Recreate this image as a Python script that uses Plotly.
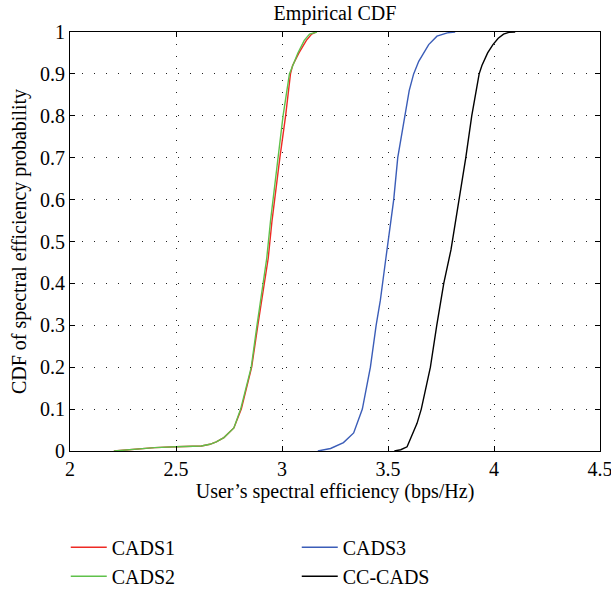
import plotly.graph_objects as go

# Empirical CDF samples (spectral efficiency in bps/Hz vs. cumulative probability)
cads1_x = [2.207, 2.30, 2.40, 2.50, 2.62, 2.66, 2.69, 2.726, 2.773, 2.808, 2.857,
           2.886, 2.91, 2.935, 2.953, 2.965, 2.99, 3.017, 3.04, 3.05, 3.08, 3.115,
           3.14, 3.16]
cads1_y = [0.0, 0.004, 0.008, 0.01, 0.012, 0.016, 0.022, 0.032, 0.055, 0.10, 0.20,
           0.30, 0.38, 0.46, 0.55, 0.60, 0.70, 0.80, 0.90, 0.92, 0.95, 0.98,
           0.995, 1.0]

cads2_x = [2.207, 2.30, 2.40, 2.50, 2.62, 2.66, 2.69, 2.726, 2.773, 2.805, 2.855,
           2.882, 2.904, 2.928, 2.946, 2.958, 2.983, 3.005, 3.035, 3.05, 3.075, 3.105,
           3.13, 3.165]
cads2_y = [0.0, 0.004, 0.008, 0.01, 0.012, 0.016, 0.022, 0.032, 0.055, 0.10, 0.20,
           0.30, 0.38, 0.46, 0.55, 0.60, 0.70, 0.80, 0.90, 0.92, 0.95, 0.98,
           0.995, 1.0]

cads3_x = [3.169, 3.229, 3.29, 3.338, 3.379, 3.417, 3.444, 3.464, 3.49, 3.514, 3.527,
           3.546, 3.563, 3.579, 3.60, 3.621, 3.645, 3.692, 3.731, 3.78, 3.817]
cads3_y = [0.0, 0.006, 0.02, 0.043, 0.10, 0.20, 0.30, 0.36, 0.46, 0.55, 0.60,
           0.70, 0.75, 0.80, 0.86, 0.90, 0.93, 0.97, 0.99, 0.998, 1.0]

cccads_x = [3.53, 3.56, 3.59, 3.637, 3.657, 3.70, 3.73, 3.763, 3.797, 3.82, 3.837,
            3.867, 3.895, 3.93, 3.943, 3.97, 3.995, 4.02, 4.045, 4.07, 4.10]
cccads_y = [0.0, 0.003, 0.01, 0.066, 0.10, 0.20, 0.30, 0.40, 0.48, 0.55, 0.60,
            0.70, 0.80, 0.90, 0.92, 0.95, 0.97, 0.985, 0.995, 0.999, 1.0]

x_ticks = [2, 2.5, 3, 3.5, 4, 4.5]
x_tick_text = ["2", "2.5", "3", "3.5", "4", "4.5"]
y_ticks = [0, 0.1, 0.2, 0.3, 0.4, 0.5, 0.6, 0.7, 0.8, 0.9, 1]
y_tick_text = ["0", "0.1", "0.2", "0.3", "0.4", "0.5", "0.6", "0.7", "0.8", "0.9", "1"]

FONT = "'Liberation Serif', 'Times New Roman', 'DejaVu Serif', serif"

series = [
    ("CADS1", cads1_x, cads1_y, "#ee2a24", 1),
    ("CADS2", cads2_x, cads2_y, "#5fc14a", 3),
    ("CADS3", cads3_x, cads3_y, "#3b5db8", 2),
    ("CC-CADS", cccads_x, cccads_y, "#000000", 4),
]

fig = go.Figure()
for name, xs, ys, color, rank in series:
    fig.add_trace(go.Scatter(
        x=xs, y=ys, mode="lines", name=name, legendrank=rank,
        line=dict(color=color, width=1.4),
    ))

axis_common = dict(
    showline=True, linecolor="black", linewidth=1, mirror="ticks",
    ticks="inside", ticklen=5, tickcolor="black", tickwidth=1,
    showgrid=True, gridcolor="#222222", gridwidth=1, griddash="1px,11px",
    zeroline=False, ticklabeloverflow="allow",
    tickfont=dict(family=FONT, size=20, color="black"),
)

fig.update_xaxes(
    range=[2, 4.5], tickvals=x_ticks, ticktext=x_tick_text,
    title=dict(text="User\u2019s spectral efficiency (bps/Hz)",
               font=dict(family=FONT, size=20, color="black"), standoff=4),
    **axis_common,
)
fig.update_yaxes(
    range=[0, 1], tickvals=y_ticks, ticktext=y_tick_text,
    title=dict(text="CDF of spectral efficiency probability",
               font=dict(family=FONT, size=20, color="black"), standoff=8),
    **axis_common,
)

fig.update_layout(
    width=611, height=591,
    margin=dict(l=70, r=11, t=32, b=140, autoexpand=False),
    paper_bgcolor="white", plot_bgcolor="white",
    font=dict(family=FONT, size=20, color="black"),
    title=dict(text="Empirical CDF", x=0.5, xref="paper", xanchor="center",
               y=1 - 13 / 591, yref="container", yanchor="middle",
               font=dict(family=FONT, size=20, color="black")),
    showlegend=True,
    legend=dict(orientation="h", x=-0.008, xanchor="left", y=-0.183, yanchor="top",
                entrywidth=180, entrywidthmode="pixels", itemwidth=36,
                font=dict(family=FONT, size=20, color="black"),
                bgcolor="rgba(0,0,0,0)"),
)

fig.write_html("out.html")
